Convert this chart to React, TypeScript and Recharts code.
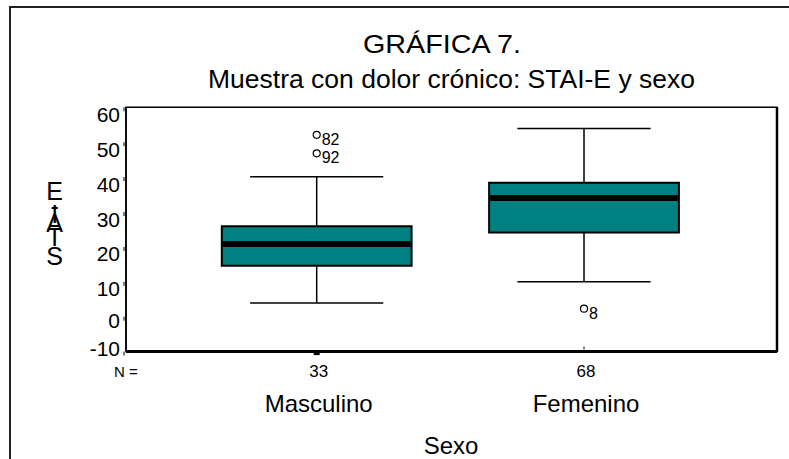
import { ComposedChart, XAxis, YAxis, ReferenceArea, ReferenceLine, Scatter } from 'recharts';

const categories = ['Masculino', 'Femenino'];
const groupSizes = [33, 68];
const groupPos = [1, 2];
const whiskerLow = [3.9, 10.0];
const q1 = [14.6, 24.1];
const medians = [20.8, 34.0];
const q3 = [25.9, 38.4];
const whiskerHigh = [40.1, 53.9];

const outlierPos = [1, 1, 2];
const outlierVal = [52.1, 46.8, 2.3];
const outlierCase = ['82', '92', '8'];

const yTicks = [-10, 0, 10, 20, 30, 40, 50, 60];

const X_MIN = 0.2866;
const X_MAX = 2.722;
const BOX_HALF = 0.355;
const CAP_HALF = 0.249;
const FONT = '"Liberation Sans", Arial, sans-serif';
const TEAL = '#008080';

const outliers = outlierPos.map((x, i) => ({ x, y: outlierVal[i], id: outlierCase[i] }));

// vertical "STAI-E" label, letters stacked (overlapping like the original export)
const yLabelLetters = ['E', '-', 'I', 'A', 'T', 'S'];
const yLabelBaselines = [200, 215, 223, 232, 246, 265];

function YTick({ x, y, payload }: any) {
    const v = payload.value;
    const dy = v === -10 ? -3 : v === 0 ? 4 : 7;
    return (
        <g>
            <text x={x - 6} y={y + dy + 7.5} textAnchor="end" fontSize={21} fontFamily={FONT} fill="#000">
                {v}
            </text>
            <line x1={x - 2} x2={x - 2} y1={y} y2={y + 4} stroke="#000" strokeWidth={1} />
        </g>
    );
}

function XTick({ x, y, payload }: any) {
    const i = groupPos.indexOf(payload.value);
    return (
        <g>
            {i === 0 ? <rect x={x - 3} y={y + 1} width={6} height={2.5} fill="#000" /> : <line x1={x} x2={x} y1={y - 5} y2={y - 2} stroke="#000" />}
            <text x={x + 2} y={y + 25} textAnchor="middle" fontSize={17} fontFamily={FONT} fill="#000">
                {groupSizes[i]}
            </text>
            <text x={x + 2} y={y + 60} textAnchor="middle" fontSize={24} fontFamily={FONT} fill="#000">
                {categories[i]}
            </text>
        </g>
    );
}

function OutlierShape({ cx, cy, payload }: any) {
    return (
        <g>
            <circle cx={cx} cy={cy} r={3.5} fill="#fff" stroke="#000" strokeWidth={1.2} />
            <text x={cx + 5} y={cy + 10} fontSize={16} fontFamily={FONT} fill="#000">
                {payload.id}
            </text>
        </g>
    );
}

export default function App() {
    return (
        <div style={{ position: 'absolute', left: 0, top: 0, width: 789, height: 459, background: '#fff' }}>
            <ComposedChart width={789} height={459} margin={{ top: 107.3, right: 12, bottom: 47.4, left: 86 }}>
                <XAxis
                    type="number"
                    dataKey="x"
                    domain={[X_MIN, X_MAX]}
                    allowDataOverflow
                    ticks={groupPos}
                    interval={0}
                    tick={<XTick />}
                    tickLine={false}
                    tickSize={0}
                    tickMargin={0}
                    axisLine={{ stroke: '#000', strokeWidth: 3 }}
                    height={60}
                />
                <YAxis
                    type="number"
                    dataKey="y"
                    domain={[-10, 60]}
                    allowDataOverflow
                    ticks={yTicks}
                    interval={0}
                    tick={<YTick />}
                    tickLine={false}
                    tickSize={0}
                    tickMargin={0}
                    axisLine={{ stroke: '#000', strokeWidth: 1.5 }}
                    width={40}
                />
                <ReferenceArea x1={X_MIN} x2={X_MAX} y1={-10} y2={60} fill="none" stroke="#000" strokeWidth={1.5} />
                <ReferenceLine x={X_MAX} stroke="#000" strokeWidth={2.5} />
                {groupPos.map((p, i) => (
                    <ReferenceLine key={'su' + i} segment={[{ x: p, y: q3[i] }, { x: p, y: whiskerHigh[i] }]} stroke="#000" strokeWidth={1.5} />
                ))}
                {groupPos.map((p, i) => (
                    <ReferenceLine key={'sl' + i} segment={[{ x: p, y: q1[i] }, { x: p, y: whiskerLow[i] }]} stroke="#000" strokeWidth={1.5} />
                ))}
                {groupPos.map((p, i) => (
                    <ReferenceLine key={'cu' + i} segment={[{ x: p - CAP_HALF, y: whiskerHigh[i] }, { x: p + CAP_HALF, y: whiskerHigh[i] }]} stroke="#000" strokeWidth={1.5} />
                ))}
                {groupPos.map((p, i) => (
                    <ReferenceLine key={'cl' + i} segment={[{ x: p - CAP_HALF, y: whiskerLow[i] }, { x: p + CAP_HALF, y: whiskerLow[i] }]} stroke="#000" strokeWidth={1.5} />
                ))}
                {groupPos.map((p, i) => (
                    <ReferenceArea key={'b' + i} x1={p - BOX_HALF} x2={p + BOX_HALF} y1={q1[i]} y2={q3[i]} fill={TEAL} fillOpacity={1} stroke="#000" strokeWidth={2} />
                ))}
                {groupPos.map((p, i) => (
                    <ReferenceLine key={'m' + i} segment={[{ x: p - BOX_HALF + 0.004, y: medians[i] }, { x: p + BOX_HALF - 0.004, y: medians[i] }]} stroke="#000" strokeWidth={6} />
                ))}
                <Scatter data={outliers} dataKey="y" shape={<OutlierShape />} isAnimationActive={false} />
            </ComposedChart>
            <svg width={789} height={459} style={{ position: 'absolute', left: 0, top: 0, pointerEvents: 'none' }}>
                <path d="M10,459 V7 H789" fill="none" stroke="#222" strokeWidth={2} />
                <text x={363} y={53} fontSize={26} fontFamily={FONT} textLength={158} lengthAdjust="spacingAndGlyphs">
                    GRÁFICA 7.
                </text>
                <text x={208} y={88} fontSize={25} fontFamily={FONT} textLength={487} lengthAdjust="spacingAndGlyphs">
                    Muestra con dolor crónico: STAI-E y sexo
                </text>
                <text fontSize={25} fontFamily={FONT} textAnchor="middle">
                    {yLabelLetters.map((ch, i) => (
                        <tspan key={i} x={54.7} y={yLabelBaselines[i]}>
                            {ch}
                        </tspan>
                    ))}
                </text>
                <text x={114} y={377} fontSize={15} fontFamily={FONT}>N =</text>
                <text x={451} y={454} fontSize={24} fontFamily={FONT} textAnchor="middle">Sexo</text>
            </svg>
        </div>
    );
}
